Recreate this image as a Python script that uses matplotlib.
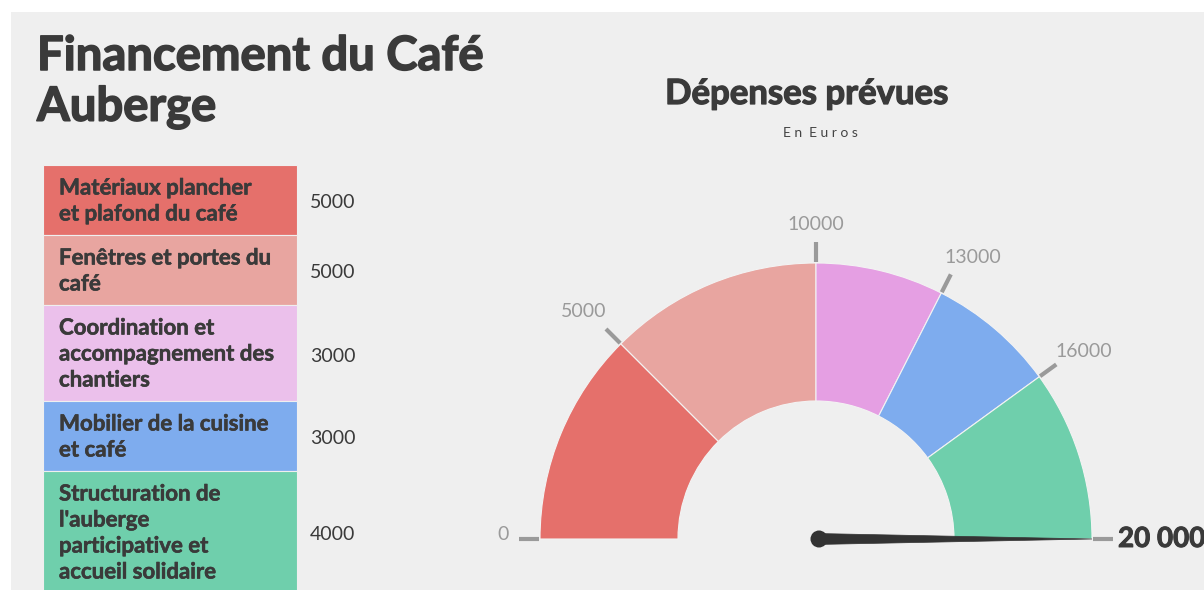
import numpy as np
import matplotlib
matplotlib.use("Agg")
import matplotlib.pyplot as plt
import matplotlib.patheffects as pe
from matplotlib.patches import Wedge, Rectangle, Circle, Polygon

plt.rcParams['font.family'] = ['Lato', 'DejaVu Sans']

# data
categories = [
    "Matériaux plancher\net plafond du café",
    "Fenêtres et portes du\ncafé",
    "Coordination et\naccompagnement des\nchantiers",
    "Mobilier de la cuisine\net café",
    "Structuration de\nl'auberge\nparticipative et\naccueil solidaire",
]
amounts = [5000, 5000, 3000, 3000, 4000]
table_colors = ["#e5706b", "#e8a5a0", "#ebc0eb", "#7eacee", "#6fcfac"]
gauge_colors = ["#e5706b", "#e8a5a0", "#e59fe3", "#7eacee", "#6fcfac"]
needle_value = 20000
total = sum(amounts)

BG = "#efefef"
DARK = "#3a3a3a"
GRAY = "#9a9a9a"


def heavy(lw, col=DARK):
    # makes bold Lato look a bit heavier, like the original display font
    return [pe.withStroke(linewidth=lw, foreground=col)]


fig = plt.figure(figsize=(12.04, 5.90), dpi=100)
fig.patch.set_facecolor("white")
ax = fig.add_axes([0, 0, 1, 1])
ax.set_xlim(0, 1204)
ax.set_ylim(590, 0)
ax.set_aspect("equal")
ax.axis("off")

# grey panel
ax.add_patch(Rectangle((11, 12), 1204 - 11, 590 - 12, facecolor=BG, edgecolor="none"))

# main title
ax.text(37, 56, "Financement du Café", fontsize=34, fontweight="bold", color=DARK,
        va="center", ha="left", path_effects=heavy(1.1))
ax.text(37, 107, "Auberge", fontsize=34, fontweight="bold", color=DARK,
        va="center", ha="left", path_effects=heavy(1.1))

# table on the left
top = 165
for label, amount, col in zip(categories, amounts, table_colors):
    lines = label.split("\n")
    h = 26 * len(lines) + 18
    ax.add_patch(Rectangle((43, top), 254, h, facecolor=col, edgecolor=BG, lw=0.8))
    for k, line in enumerate(lines):
        ax.text(59, top + 23 + 26 * k, line, fontsize=16, fontweight="bold", color=DARK,
                va="center", ha="left", path_effects=heavy(0.4))
    ax.text(310, top + h / 2 + 3, str(amount), fontsize=14, color=DARK, va="center", ha="left")
    top += h

# gauge
ax.text(807, 94, "Dépenses prévues", fontsize=25, fontweight="bold", color=DARK,
        ha="center", va="center", path_effects=heavy(0.9))
ax.text(820, 133, "E n  E u r o s", fontsize=10, color="#444444", ha="center", va="center")

cx, cy = 816, 539
r_out, r_in = 276, 138


def ang(v):
    return 180.0 - 180.0 * v / total


bounds = np.concatenate([[0], np.cumsum(amounts)])
for i, col in enumerate(gauge_colors):
    a_hi = ang(bounds[i])
    a_lo = ang(bounds[i + 1])
    ax.add_patch(Wedge((cx, cy), r_out, -a_hi, -a_lo, width=r_out - r_in,
                       facecolor=col, edgecolor="#f3f3f3", lw=0.8))

for v in bounds:
    a = np.radians(ang(v))
    c, s = np.cos(a), np.sin(a)
    ax.plot([cx + (r_out + 1) * c, cx + (r_out + 21) * c],
            [cy - (r_out + 1) * s, cy - (r_out + 21) * s], color=GRAY, lw=3, solid_capstyle="butt")
    if v == total:
        ax.text(cx + r_out + 26, cy, "20 000", fontsize=20, fontweight="bold", color=DARK,
                ha="left", va="center", path_effects=heavy(0.7))
    else:
        txt = str(int(v))
        shift = 0 if abs(c) < 0.1 else np.sign(c) * len(txt) * 3.3
        dy = -5 - 6 * max(0.0, -c) * s
        ax.text(cx + 310 * c + shift, cy - 310 * s + dy, txt, fontsize=14, color=GRAY,
                ha="center", va="center")

# needle
a = np.radians(ang(needle_value))
tip = (cx + r_out * np.cos(a), cy - r_out * np.sin(a))
px, py = np.sin(a), np.cos(a)
needle = Polygon([(cx + 5.5 * px, cy + 5.5 * py), tip, (cx - 5.5 * px, cy - 5.5 * py)],
                 closed=True, facecolor="#333333", edgecolor="#333333", lw=0.5)
ax.add_patch(needle)
ax.add_patch(Circle((cx + 3, cy), 8.5, facecolor="#333333", edgecolor="none"))

fig.savefig("out.png", dpi=100, facecolor=fig.get_facecolor())
